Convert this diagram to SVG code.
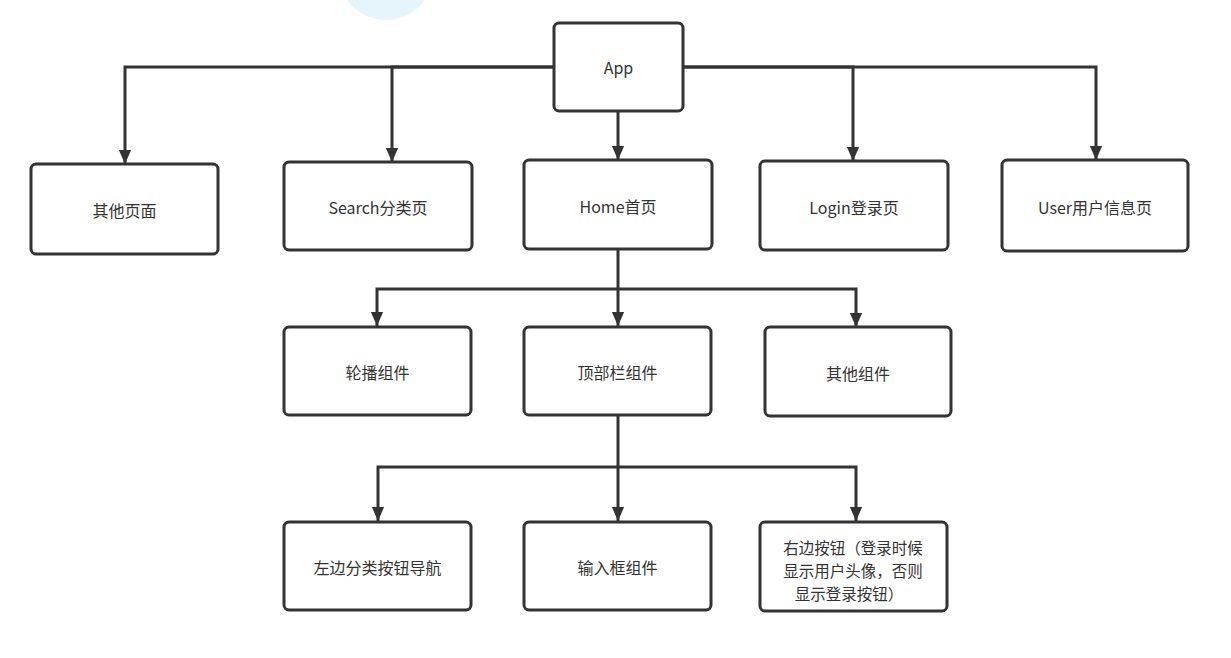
<svg xmlns="http://www.w3.org/2000/svg" width="1231" height="658" viewBox="0 0 1231 658">
  <defs>
    <marker id="arrow" markerUnits="userSpaceOnUse" markerWidth="14" markerHeight="18" refX="16" refY="7" viewBox="0 0 16 14" orient="auto">
      <path d="M0 0 L16 7 L0 14 Z" fill="#333"/>
    </marker>
    <style>
      .box { fill: #fff; stroke: #333; stroke-width: 3; }
      .lbl { font-family: "Noto Sans CJK SC", "Noto Sans", sans-serif; font-size: 16px; fill: #333; text-anchor: middle; dominant-baseline: central; }
      .small { font-size: 15.5px; }
      .edge { fill: none; stroke: #333; stroke-width: 3; marker-end: url(#arrow); }
    </style>
  </defs>
  <rect width="1231" height="658" fill="#fff"/>
  <!-- faint decorative circle at the top edge -->
  <circle cx="386" cy="-28" r="48" fill="#e6f5fc"/>

  <g id="connectors">
    <path class="edge" d="M554 67 H125 V164"/>
    <path class="edge" d="M554 67 H392 V162"/>
    <path class="edge" d="M618 111 V160"/>
    <path class="edge" d="M683 67 H853 V161"/>
    <path class="edge" d="M683 67 H1096 V160"/>
    <path class="edge" d="M618 250 V326"/>
    <path class="edge" d="M618 289 H377 V326"/>
    <path class="edge" d="M618 289 H856 V327"/>
    <path class="edge" d="M618 416 V521"/>
    <path class="edge" d="M618 467 H378 V521"/>
    <path class="edge" d="M618 467 H856 V521"/>
  </g>

  <g id="app"><rect class="box" x="554" y="23" width="129" height="88" rx="5"/><text class="lbl" x="618.5" y="67">App</text></g>
  <g id="other-pages"><rect class="box" x="31" y="164" width="187" height="90" rx="5"/><text class="lbl" x="124.5" y="210">其他页面</text></g>
  <g id="search"><rect class="box" x="284" y="162" width="188" height="88" rx="5"/><text class="lbl" x="378" y="207">Search分类页</text></g>
  <g id="home"><rect class="box" x="524" y="160" width="188" height="89" rx="5"/><text class="lbl" x="618" y="206">Home首页</text></g>
  <g id="login"><rect class="box" x="760" y="161" width="188" height="89" rx="5"/><text class="lbl" x="854" y="207">Login登录页</text></g>
  <g id="user"><rect class="box" x="1002" y="160" width="186" height="91" rx="5"/><text class="lbl" x="1095" y="207">User用户信息页</text></g>

  <g id="carousel"><rect class="box" x="284" y="327" width="187" height="88" rx="5"/><text class="lbl" x="377.5" y="372">轮播组件</text></g>
  <g id="topbar"><rect class="box" x="524" y="327" width="187" height="88" rx="5"/><text class="lbl" x="617.5" y="372">顶部栏组件</text></g>
  <g id="other-components"><rect class="box" x="765" y="327" width="186" height="89" rx="5"/><text class="lbl" x="858" y="372.5">其他组件</text></g>

  <g id="left-nav"><rect class="box" x="284" y="522" width="187" height="88" rx="5"/><text class="lbl" x="377.5" y="567">左边分类按钮导航</text></g>
  <g id="input"><rect class="box" x="524" y="522" width="187" height="88" rx="5"/><text class="lbl" x="617.5" y="567">输入框组件</text></g>
  <g id="right-button"><rect class="box" x="760" y="522" width="187" height="89" rx="5"/>
    <text class="lbl small" x="853" y="546.5">右边按钮（登录时候</text>
    <text class="lbl small" x="853" y="569.5">显示用户头像，否则</text>
    <text class="lbl small" x="849" y="592.5">显示登录按钮）</text>
  </g>
</svg>
